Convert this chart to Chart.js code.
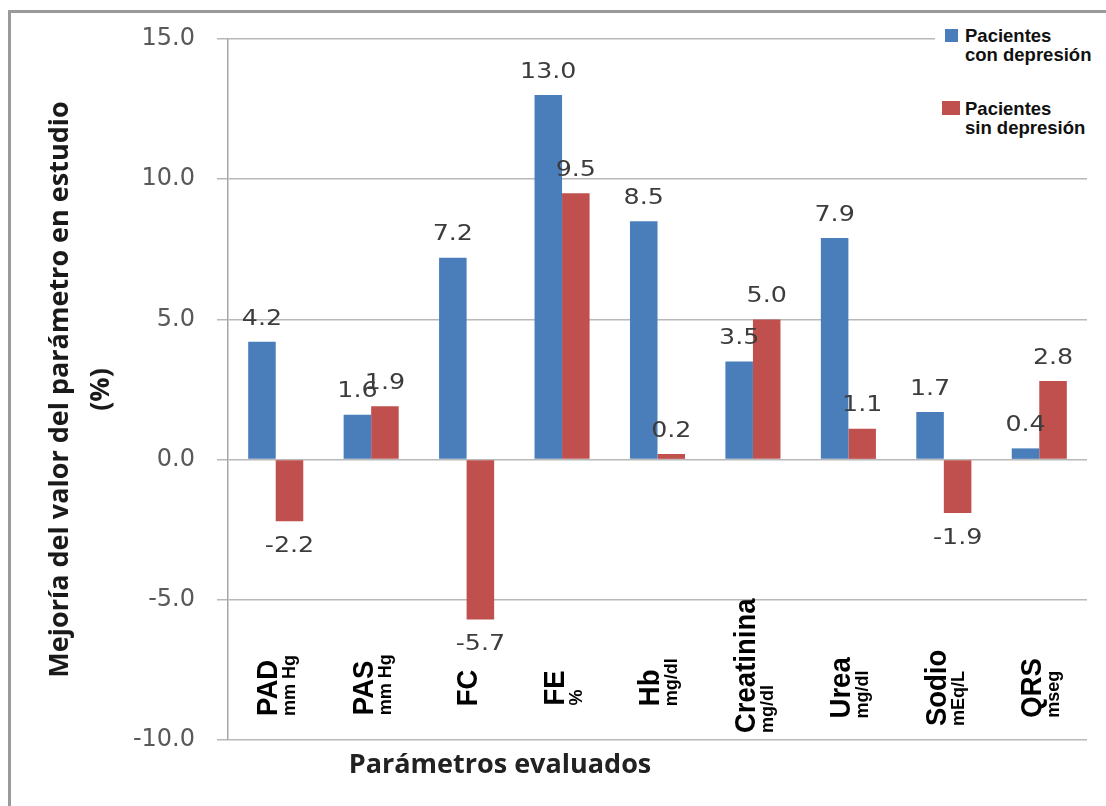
<!DOCTYPE html>
<html>
<head>
<meta charset="utf-8">
<title>Mejoría del valor del parámetro</title>
<script src="https://cdn.jsdelivr.net/npm/chart.js@4.4.0/dist/chart.umd.min.js"></script>
<style>
  html, body { margin: 0; padding: 0; background: #fff; }
  #wrap { position: relative; width: 1106px; height: 806px; overflow: hidden; }
  #frame {
    position: absolute; left: 8px; top: 10px; right: 0; bottom: 0;
    border-left: 3px solid #9a9a9a; border-top: 3px solid #9a9a9a;
  }
  #myChart { position: absolute; left: 0; top: 0; }
  #legend {
    position: absolute; left: 935px; top: 22px; width: 171px; height: 122px;
    background: #fff;
    font: bold 18.5px "Liberation Sans", Arial, sans-serif; color: #111;
  }
  .item { position: absolute; left: 30px; line-height: 19px; white-space: nowrap; }
  .box { position: absolute; }
</style>
</head>
<body>
<div id="wrap">
  <div id="frame"></div>
  <canvas id="myChart" width="1106" height="806"></canvas>
  <div id="legend"></div>
</div>
<script>
// data
const categories = ["PAD", "PAS", "FC", "FE", "Hb", "Creatinina", "Urea", "Sodio", "QRS"];
const units = ["mm Hg", "mm Hg", "", "%", "mg/dl", "mg/dl", "mg/dl", "mEq/L", "mseg"];
const conDepresion = [4.2, 1.6, 7.2, 13.0, 8.5, 3.5, 7.9, 1.7, 0.4];
const sinDepresion = [-2.2, 1.9, -5.7, 9.5, 0.2, 5.0, 1.1, -1.9, 2.8];
const seriesNames = [["Pacientes", "con depresión"], ["Pacientes", "sin depresión"]];
const seriesColors = ["#4a7ebb", "#c0504d"];
const yTicks = [-10, -5, 0, 5, 10, 15];
const yTitle = ["Mejoría del valor del parámetro en estudio", "(%)"];
const xTitle = "Parámetros evaluados";

// html legend
let legend = document.getElementById("legend");
const legendTops = [4, 77];
const boxes = [
    { left: 10, top: 7, w: 13, h: 13 },
    { left: 7, top: 79, w: 18, h: 14 },
];
seriesNames.forEach((name, i) => {
    legend.innerHTML += `<div class="box" style="left:${boxes[i].left}px;top:${boxes[i].top}px;width:${boxes[i].w}px;height:${boxes[i].h}px;background:${seriesColors[i]}"></div>`;
    legend.innerHTML += `<div class="item" style="top:${legendTops[i]}px">${name.join("<br>")}</div>`;
});

// value labels above / below every bar
const valueLabels = {
    id: "valueLabels",
    afterDatasetsDraw(chart) {
        const ctx = chart.ctx;
        chart.data.datasets.forEach((ds, di) => {
            const meta = chart.getDatasetMeta(di);
            meta.data.forEach((bar, i) => {
                const v = ds.data[i];
                const ty = v >= 0 ? bar.y - 23 : bar.y + 25;
                ctx.save();
                ctx.translate(bar.x, ty);
                ctx.scale(1.15, 1);
                ctx.font = '22px "DejaVu Sans"';
                ctx.fillStyle = "#3c3c3c";
                ctx.textAlign = "center";
                ctx.textBaseline = "middle";
                ctx.fillText(v.toFixed(1), 0, 0);
                ctx.restore();
            });
        });
    },
};

// vertical category names with unit subscripts, inside the plot near the bottom
const categoryLabels = {
    id: "categoryLabels",
    afterDraw(chart) {
        const ctx = chart.ctx;
        const x = chart.scales.x;
        const y = chart.scales.y;
        const midY = (y.getPixelForValue(-5) + y.getPixelForValue(-10)) / 2 + 18;
        const maxBottom = y.getPixelForValue(-10) - 7;
        const capH = 27.5 * 0.716 * 1.1;
        categories.forEach((name, i) => {
            const cx = x.getPixelForValue(i);
            ctx.save();
            ctx.font = 'bold 27.5px "Liberation Sans", Arial, sans-serif';
            const w = ctx.measureText(name).width;
            const hasSub = units[i] !== "";
            const base = hasSub ? cx + 1.7 : cx + capH / 2;
            const bottom = Math.min(midY + w / 2, maxBottom);
            ctx.fillStyle = "#000";
            ctx.translate(base, bottom);
            ctx.rotate(-Math.PI / 2);
            ctx.save();
            ctx.scale(1, 1.1);
            ctx.fillText(name, 0, 0);
            ctx.restore();
            if (hasSub) {
                ctx.font = 'bold 18px "Liberation Sans", Arial, sans-serif';
                ctx.fillText(units[i], 0, 18);
            }
            ctx.restore();
        });
        // x axis title
        ctx.save();
        ctx.font = 'bold 27px "Open Sans"';
        ctx.fillStyle = "#222";
        ctx.textAlign = "center";
        ctx.textBaseline = "middle";
        ctx.fillText(xTitle, 500, 765);
        ctx.restore();
    },
};

const data = {
    labels: categories,
    datasets: [
        {
            label: seriesNames[0].join(" "),
            backgroundColor: seriesColors[0],
            data: conDepresion,
        },
        {
            label: seriesNames[1].join(" "),
            backgroundColor: seriesColors[1],
            data: sinDepresion,
        },
    ],
};

const config = {
    type: "bar",
    data: data,
    options: {
        responsive: false,
        animation: false,
        categoryPercentage: 0.577,
        barPercentage: 1.0,
        layout: { padding: { left: 0, right: 19, top: 39, bottom: 66 } },
        plugins: {
            legend: { display: false },
            tooltip: { enabled: false },
        },
        scales: {
            x: { display: false },
            y: {
                min: yTicks[0],
                max: yTicks[yTicks.length - 1],
                afterBuildTicks: (scale) => {
                    scale.ticks = yTicks.map((v) => ({ value: v }));
                },
                afterFit: (scale) => {
                    scale.width = 228;
                },
                grid: { color: "#b8b8b8", lineWidth: 1.5, tickLength: 11 },
                border: { color: "#a6a6a6", width: 1.5 },
                ticks: {
                    padding: 22,
                    color: "#595959",
                    font: { family: "DejaVu Sans", size: 24 },
                    callback: (v) => Number(v).toFixed(1),
                },
                title: {
                    display: true,
                    text: yTitle,
                    color: "#1a1a1a",
                    font: { family: "Open Sans", size: 27, weight: "bold", lineHeight: 1.52 },
                    padding: { top: 39.5, bottom: 0 },
                },
            },
        },
    },
    plugins: [valueLabels, categoryLabels],
};

const myChart = new Chart(document.getElementById("myChart"), config);
</script>
</body>
</html>
